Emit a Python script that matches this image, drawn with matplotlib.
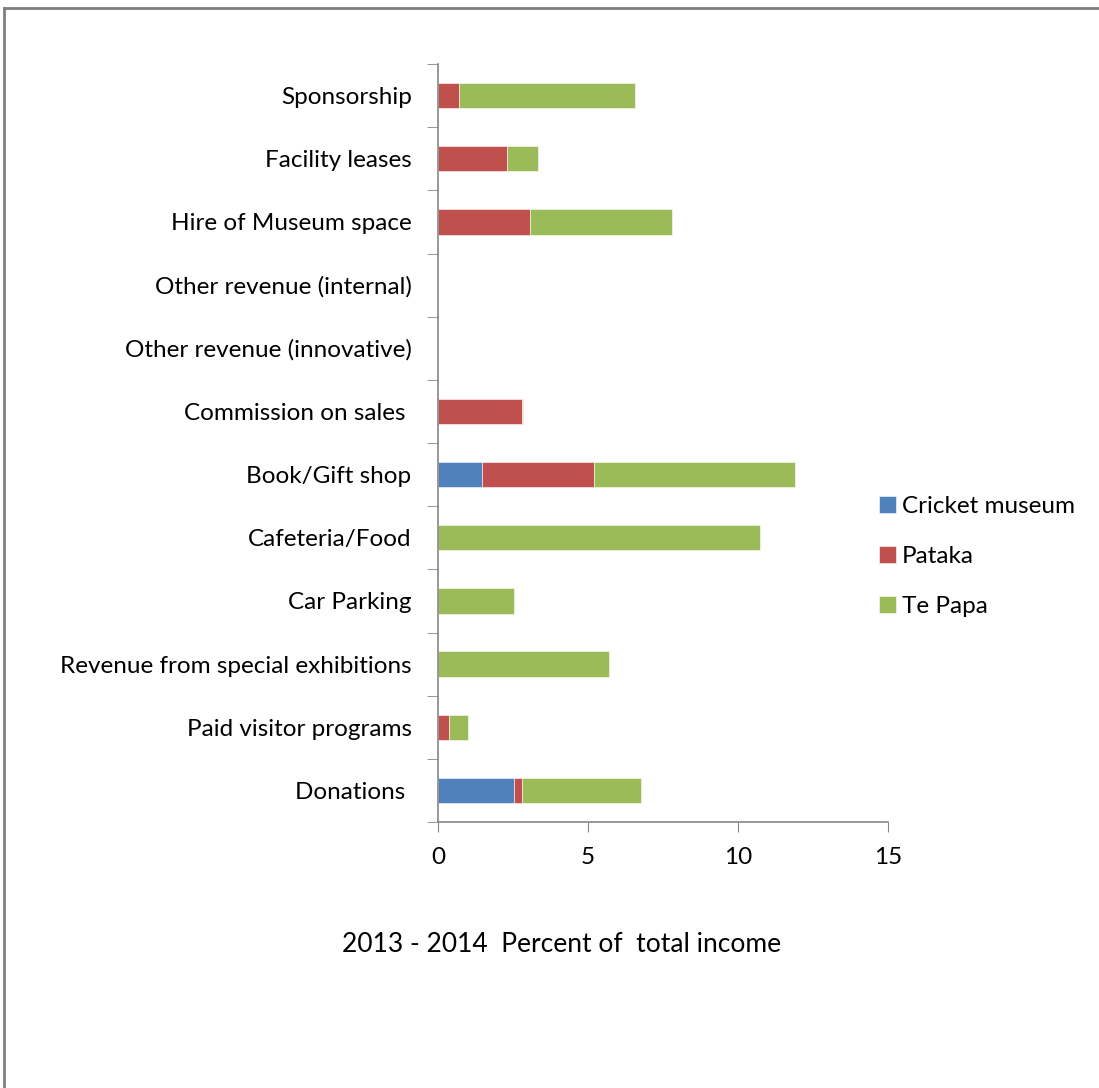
import matplotlib.pyplot as plt
import numpy as np
from matplotlib.lines import Line2D

categories = ["Donations ", "Paid visitor programs", "Revenue from special exhibitions",
              "Car Parking", "Cafeteria/Food", "Book/Gift shop", "Commission on sales ",
              "Other revenue (innovative)", "Other revenue (internal)",
              "Hire of Museum space", "Facility leases", "Sponsorship"]
cricket = [2.54, 0, 0, 0, 0, 1.48, 0, 0, 0, 0, 0, 0]
pataka = [0.26, 0.37, 0, 0, 0, 3.71, 2.80, 0, 0, 3.07, 2.29, 0.71]
tepapa = [3.97, 0.64, 5.70, 2.53, 10.73, 6.70, 0.04, 0, 0, 4.72, 1.05, 5.85]
series_names = ["Cricket museum", "Pataka", "Te Papa"]
colors = ["#4F81BD", "#C0504D", "#9BBB59"]
xticks = [0, 5, 10, 15]

plt.rcParams['font.family'] = ['Lato', 'DejaVu Sans']

fig = plt.figure(figsize=(10.99, 10.88), dpi=100)
ax = fig.add_axes([438/1099, 1 - 822/1088, 450/1099, 758/1088])

y = np.arange(len(categories))
left = np.zeros(len(categories))
for vals, name, c in zip([cricket, pataka, tepapa], series_names, colors):
    ax.barh(y, vals, left=left, height=0.4, color=c, label=name,
            edgecolor="white", linewidth=0.4)
    left = left + np.array(vals)

ax.set_xlim(0, 15)
ax.set_ylim(-0.5, len(categories) - 0.5)
ax.set_xticks(xticks)
ax.set_xticklabels([str(t) for t in xticks], fontsize=17.5)
ax.set_yticks(y)
ax.set_yticklabels(categories, fontsize=17.5)
ax.tick_params(axis='y', length=0, pad=19)
ax.set_yticks(np.arange(-0.5, len(categories), 1), minor=True)
ax.tick_params(axis='y', which='minor', length=8, color="#868686", direction='out')
ax.tick_params(axis='x', length=7, color="#868686", pad=11)

for s in ["top", "right"]:
    ax.spines[s].set_visible(False)
for s in ["left", "bottom"]:
    ax.spines[s].set_color("#868686")
    ax.spines[s].set_linewidth(1.2)

fig.text(562/1099, 1 - 945/1088, "2013 - 2014  Percent of  total income",
         fontsize=19, ha="center", va="center")

ax.legend(loc="upper left", bbox_to_anchor=(857/1099, 1 - 474/1088),
          bbox_transform=fig.transFigure, frameon=False, fontsize=17.5,
          handlelength=0.7, handleheight=0.7, handletextpad=0.25,
          labelspacing=1.2)

# gray frame around the chart area
fig.add_artist(Line2D([4/1099, 4/1099], [0, 1 - 8/1088], color="#7f7f7f", lw=2))
fig.add_artist(Line2D([4/1099, 1], [1 - 8/1088, 1 - 8/1088], color="#7f7f7f", lw=2))

fig.savefig("out.png", dpi=100)
